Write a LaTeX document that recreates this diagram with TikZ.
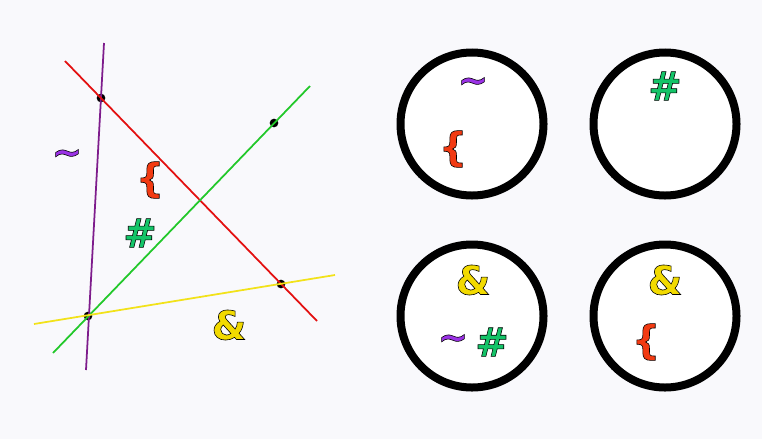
\documentclass[tikz,border=0pt]{standalone}
\usepackage{fontspec}
\setmainfont{DejaVu Sans}
\usetikzlibrary{positioning}
\definecolor{BgPaper}{HTML}{F9F9FC}
\definecolor{LnPurple}{HTML}{7E1C8C}
\definecolor{LnRed}{HTML}{E31010}
\definecolor{LnGreen}{HTML}{22C82A}
\definecolor{LnYellow}{HTML}{F2E21A}
\definecolor{SymPurple}{HTML}{9B32E6}
\definecolor{SymRed}{HTML}{F23A12}
\definecolor{SymGreen}{HTML}{14C468}
\definecolor{SymYellow}{HTML}{F2DA00}
% outlined glyphs (fill + thin black stroke)
\newcommand{\outl}[1]{\special{pdf:literal 0 0 0 RG 0.5 w 2 Tr}#1\special{pdf:literal 0 Tr}}

\begin{document}
\begin{tikzpicture}[x=0.03cm, y=-0.03cm,
  sym/.style={inner sep=0pt, font=\bfseries\fontsize{34}{34}\selectfont},
  tld/.style={sym, font=\bfseries\fontsize{31}{31}\selectfont},
  ring/.style={circle, draw=black, fill=white, line width=0.24cm, minimum size=4.29cm, inner sep=0pt},
  dot/.style={circle, fill=black, minimum size=0.26cm, inner sep=0pt},
  ln/.style={line width=1.5pt}]
  \fill[BgPaper] (0,0) rectangle (762,439);
  \useasboundingbox (0,0) rectangle (762,439);

  % line ends
  \coordinate (pu1) at (104,43);  \coordinate (pu2) at (86,370);
  \coordinate (re1) at (65,61);   \coordinate (re2) at (317,321);
  \coordinate (gr1) at (310,86);  \coordinate (gr2) at (53,353);
  \coordinate (ye1) at (34,324);  \coordinate (ye2) at (335,275);

  % points on the lines
  \node[dot] (pA) at (101,98) {};
  \node[dot] (pB) at (274,123) {};
  \node[dot] (pC) at (281,284) {};
  \node[dot] (pD) at (88,316) {};

  \draw[ln, LnPurple] (pu1) -- (pu2);
  \draw[ln, LnRed] (re1) -- (re2);
  \draw[ln, LnGreen] (gr1) -- (gr2);
  \draw[ln, LnYellow] (ye1) -- (ye2);

  % line labels
  \node[tld, text=SymPurple] (tPu) at (67,157) {\outl{\textasciitilde}};
  \node[sym, text=SymRed] (tRe) at (150,180) {\outl{\{}};
  \node[sym, text=SymGreen] (tGr) at (140,233) {\outl{\#}};
  \node[sym, text=SymYellow] (tYe) at (229,325) {\outl{\&}};

  % the four sets
  \node[ring] (c1) at (472,124) {};
  \node[ring] (c2) at (665,124) {};
  \node[ring] (c3) at (472,316) {};
  \node[ring] (c4) at (665,316) {};

  \node[tld, text=SymPurple] (c1Pu) at (473,85) {\outl{\textasciitilde}};
  \node[sym, text=SymRed] (c1Re) at (453,149) {\outl{\{}};
  \node[sym, text=SymGreen] (c2Gr) at (665,86) {\outl{\#}};
  \node[sym, text=SymYellow] (c3Ye) at (473,280) {\outl{\&}};
  \node[tld, text=SymPurple] (c3Pu) at (453,342) {\outl{\textasciitilde}};
  \node[sym, text=SymGreen] (c3Gr) at (492,342) {\outl{\#}};
  \node[sym, text=SymYellow] (c4Ye) at (665,280) {\outl{\&}};
  \node[sym, text=SymRed] (c4Re) at (646,342) {\outl{\{}};
\end{tikzpicture}
\end{document}
